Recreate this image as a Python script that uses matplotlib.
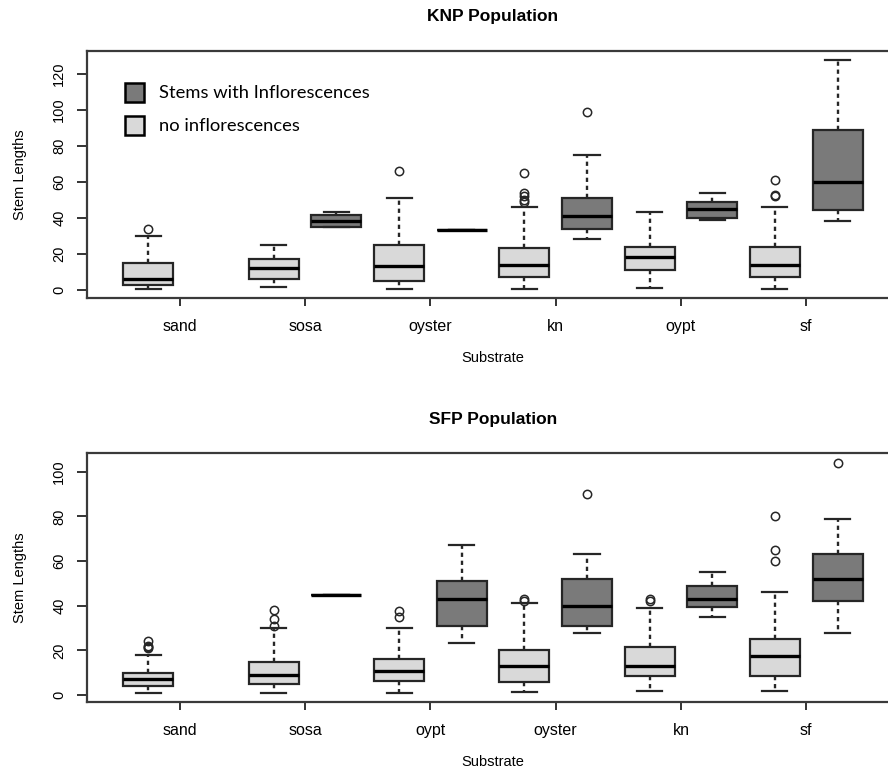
import matplotlib.pyplot as plt
from matplotlib.patches import Patch

# five-number summaries per substrate: (whisker low, q1, median, q3, whisker high)
# "no" = no inflorescences (light), "inf" = stems with inflorescences (dark)
knp_sites = ['sand', 'sosa', 'oyster', 'kn', 'oypt', 'sf']
knp_no = [(0.5, 2.6, 6, 15, 30), (1.5, 6, 12, 17, 25), (0.5, 5, 13, 25, 51),
          (0.5, 7, 14, 23, 46), (1, 11, 18, 24, 43), (0.5, 7, 14, 24, 46)]
knp_no_out = [[34], [], [66], [65, 54, 52, 50, 49], [], [61, 53, 52]]
knp_inf = [None, (35, 35, 38, 41.5, 43), (33, 33, 33, 33, 33),
           (28, 34, 41, 51, 75), (39, 40, 45, 49, 54), (38, 44.5, 60, 89, 128)]
knp_inf_out = [[], [], [], [99], [], []]

sfp_sites = ['sand', 'sosa', 'oypt', 'oyster', 'kn', 'sf']
sfp_no = [(1, 4, 7, 10, 18), (1, 5, 9, 15, 30), (1, 6.4, 11, 16, 30),
          (1.5, 6, 13, 20, 41), (2, 8.4, 13, 21.5, 39), (2, 8.7, 17.5, 25, 46)]
sfp_no_out = [[24, 22, 21.5, 21], [38, 34, 31], [37.5, 35], [43, 42], [43, 42],
              [80, 65, 60]]
sfp_inf = [None, (45, 45, 45, 45, 45), (23.5, 31, 43, 51, 67),
           (28, 31, 40, 52, 63), (35, 39.5, 43, 49, 55), (28, 42, 52, 63, 79)]
sfp_inf_out = [[], [], [], [90], [], [104]]

DARK = '#7a7a7a'
LIGHT = '#d9d9d9'
EDGE = '#262626'

plt.rcParams['font.family'] = ['Liberation Sans', 'DejaVu Sans']


def stats(five, fliers):
    lo, q1, med, q3, hi = five
    return dict(whislo=lo, q1=q1, med=med, q3=q3, whishi=hi, fliers=fliers)


def panel(ax, sites, no, no_out, inf, inf_out, title, ylim, yticks):
    for fill, groups, outs, off in [(LIGHT, no, no_out, 1), (DARK, inf, inf_out, 2)]:
        st, pos = [], []
        for i, g in enumerate(groups):
            if g is None:
                continue
            st.append(stats(g, outs[i]))
            pos.append(2 * i + off)
        ax.bxp(st, positions=pos, widths=0.8, patch_artist=True,
               boxprops=dict(facecolor=fill, edgecolor=EDGE, linewidth=1.6),
               medianprops=dict(color='black', linewidth=2.4,
                                solid_capstyle='butt'),
               whiskerprops=dict(color=EDGE, linewidth=1.7,
                                 linestyle=(0, (1.8, 1.6))),
               capprops=dict(color=EDGE, linewidth=1.6),
               capwidths=0.4,
               flierprops=dict(marker='o', markersize=6, markerfacecolor='none',
                               markeredgecolor=EDGE, markeredgewidth=1.1))
    ax.set_xlim(0.02, 12.98)
    ax.set_ylim(*ylim)
    ax.set_xticks([2 * i + 1.5 for i in range(len(sites))])
    ax.set_xticklabels(sites, fontsize=11.5)
    ax.set_yticks(yticks)
    ax.tick_params(axis='y', labelrotation=90, labelsize=10.5, pad=8,
                   length=7, width=1.4, color='#333333')
    ax.tick_params(axis='x', pad=9, length=6, width=1.4, color='#333333')
    for lab in ax.get_yticklabels():
        lab.set_va('center')
    for s in ax.spines.values():
        s.set_linewidth(1.6)
        s.set_color('#3a3a3a')
    ax.set_title(title, fontsize=12.5, fontweight='bold', pad=21)
    ax.set_xlabel('Substrate', fontsize=10.5)
    ax.set_ylabel('Stem Lengths', fontsize=10.5)
    ax.xaxis.set_label_coords(0.5, -0.214)
    ax.yaxis.set_label_coords(-0.074, 0.5)


fig = plt.figure(figsize=(8.88, 7.71), dpi=100)
ax1 = fig.add_axes([0.098, 0.6135, 0.9144, 0.3208])
ax2 = fig.add_axes([0.098, 0.0895, 0.9144, 0.323])

panel(ax1, knp_sites, knp_no, knp_no_out, knp_inf, knp_inf_out,
      'KNP Population', (-4.6, 133.1), range(0, 121, 20))
panel(ax2, sfp_sites, sfp_no, sfp_no_out, sfp_inf, sfp_inf_out,
      'SFP Population', (-3.1, 108.4), range(0, 101, 20))

handles = [Patch(facecolor=DARK, edgecolor='black', linewidth=1.8),
           Patch(facecolor=LIGHT, edgecolor='black', linewidth=1.8)]
ax1.legend(handles, ['Stems with Inflorescences', 'no inflorescences'],
           loc='upper left', bbox_to_anchor=(0.047, 0.87), frameon=False,
           prop=dict(family='Lato', size=13.2), handlelength=1.0,
           handleheight=1.2, handletextpad=0.85, labelspacing=0.78,
           borderpad=0, borderaxespad=0)

fig.savefig('out.png', dpi=100)
